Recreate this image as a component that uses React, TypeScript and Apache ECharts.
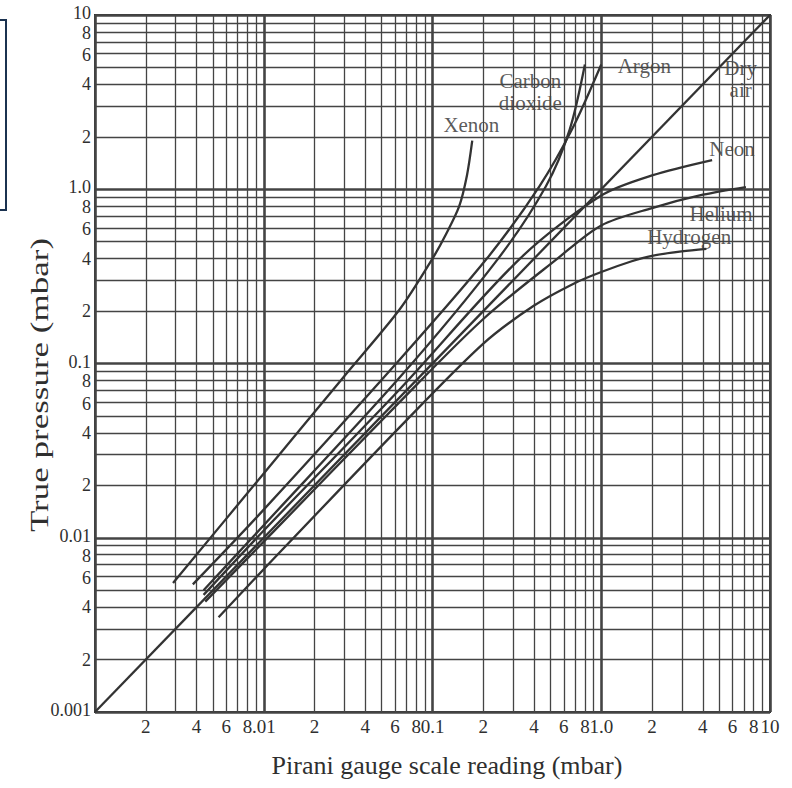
import React, { useEffect, useRef } from "react";
import * as echarts from "echarts";

// ---- axis grid & tick labels ----
const decades = [0.001, 0.01, 0.1, 1];
const multipliers = [1, 2, 3, 4, 5, 6, 7, 8, 9];
const axisMax = 10;
const xTickValues = [0.002, 0.004, 0.006, 0.008, 0.01, 0.02, 0.04, 0.06, 0.08, 0.1, 0.2, 0.4, 0.6, 0.8, 1, 2, 4, 6, 8, 10];
const xTickLabels = ["2", "4", "6", "8", ".01", "2", "4", "6", "8", "0.1", "2", "4", "6", "8", "1.0", "2", "4", "6", "8", "10"];
const yTickValues = [0.001, 0.002, 0.004, 0.006, 0.008, 0.01, 0.02, 0.04, 0.06, 0.08, 0.1, 0.2, 0.4, 0.6, 0.8, 1, 2, 4, 6, 8, 10];
const yTickLabels = ["0.001", "2", "4", "6", "8", "0.01", "2", "4", "6", "8", "0.1", "2", "4", "6", "8", "1.0", "2", "4", "6", "8", "10"];

// ---- curves (Pirani gauge reading, true pressure), mbar ----
const dryAirX = [0.001, 10];
const dryAirY = [0.001, 10];
const xenonX = [0.0029, 0.01, 0.03, 0.0638, 0.1, 0.12, 0.144, 0.16, 0.172];
const xenonY = [0.0055, 0.0234, 0.0846, 0.204, 0.4, 0.55, 0.8, 1.2, 1.9];
const argonX = [0.0038, 0.01, 0.0638, 0.21, 0.43, 0.67, 1.0];
const argonY = [0.0054, 0.0145, 0.105, 0.4, 1.04, 2.2, 5.2];
const co2X = [0.0044, 0.01, 0.0638, 0.245, 0.47, 0.65, 0.8];
const co2Y = [0.005, 0.0118, 0.083, 0.4, 1.04, 2.2, 5.2];
const neonX = [0.0044, 0.01, 0.0638, 0.33, 1.0, 2.0, 4.54];
const neonY = [0.0047, 0.011, 0.071, 0.4, 0.92, 1.2, 1.47];
const heliumX = [0.0045, 0.01, 0.0638, 0.2, 0.55, 1.0, 2.0, 4.0, 7.2];
const heliumY = [0.0043, 0.0095, 0.06, 0.18, 0.4, 0.62, 0.78, 0.93, 1.03];
const hydrogenX = [0.0054, 0.01, 0.0638, 0.2, 0.4, 0.7, 1.0, 1.5, 2.0, 3.0, 4.2];
const hydrogenY = [0.0035, 0.0066, 0.043, 0.13, 0.215, 0.29, 0.335, 0.385, 0.415, 0.44, 0.455];

// ---- gas labels ----
const gasNames = ["Xenon", "Carbon\ndioxide", "Argon", "Dry\nair", "Neon", "Helium", "Hydrogen"];
const gasLabelX = [0.17, 0.38, 1.8, 6.7, 5.96, 5.13, 3.32];
const gasLabelY = [2.33, 3.61, 5.09, 4.29, 1.7, 0.718, 0.53];

const FONT = '"Liberation Serif", "DejaVu Serif", serif';
const INK = "#2f2f2f";

function zip(xs: number[], ys: number[]) {
  return xs.map((x, i) => [x, ys[i]]);
}

function gridValues(): number[] {
  const out: number[] = [];
  decades.forEach((d) => multipliers.forEach((m) => out.push(parseFloat((d * m).toPrecision(3)))));
  out.push(axisMax);
  return out;
}

function labelFor(v: number, values: number[], labels: string[]) {
  const i = values.findIndex((t) => Math.abs(t - v) / v < 1e-6);
  return i >= 0 ? labels[i] : null;
}

function isDecade(v: number) {
  const l = Math.log10(v);
  return Math.abs(l - Math.round(l)) < 1e-6;
}

export default function App() {
  const ref = useRef<HTMLDivElement>(null);
  useEffect(() => {
    if (!ref.current) return;
    const chart = echarts.init(ref.current, null, { renderer: "svg" });
    const gv = gridValues();
    const vLines = gv.map((v) => {
      const txt = labelFor(v, xTickValues, xTickLabels);
      return {
        xAxis: v,
        lineStyle: { width: isDecade(v) ? 2.6 : 1.3, color: "#444", type: "solid" },
        label: txt
          ? {
              show: true,
              formatter: txt,
              position: "start",
              distance: 6,
              fontFamily: FONT,
              fontSize: 19,
              lineHeight: 16,
              color: INK,
            }
          : { show: false },
      };
    });
    const hLines = gv.map((v) => {
      const txt = labelFor(v, yTickValues, yTickLabels);
      // tightly packed labels below each decade are nudged apart slightly
      const dy = isDecade(v) ? -2 : txt === "8" ? 1 : txt === "6" ? 1.5 : 0;
      return {
        yAxis: v,
        lineStyle: { width: isDecade(v) ? 2.6 : 1.3, color: "#444", type: "solid" },
        label: txt
          ? {
              show: true,
              formatter: txt,
              position: "start",
              distance: 4,
              offset: [0, dy],
              fontFamily: FONT,
              fontSize: 18,
              lineHeight: 14,
              color: INK,
            }
          : { show: false },
      };
    });
    const curve = (name: string, xs: number[], ys: number[]) => ({
      name,
      type: "line",
      data: zip(xs, ys),
      showSymbol: false,
      symbol: "none",
      smooth: 0.3,
      z: 5,
      lineStyle: { color: "#333", width: 2.3 },
    });
    const option: any = {
      animation: false,
      backgroundColor: "#fff",
      grid: { left: 95, right: 22, top: 15, bottom: 76, show: true, borderColor: "#333", borderWidth: 2 },
      xAxis: {
        type: "log",
        logBase: 10,
        min: 0.001,
        max: 10,
        axisLine: { show: false },
        axisTick: { show: false },
        axisLabel: { show: false },
        splitLine: { show: false },
      },
      yAxis: {
        type: "log",
        logBase: 10,
        min: 0.001,
        max: 10,
        axisLine: { show: false },
        axisTick: { show: false },
        axisLabel: { show: false },
        splitLine: { show: false },
      },
      graphic: [
        {
          type: "rect",
          shape: { x: -20, y: 20, width: 26, height: 190 },
          style: { fill: "#fff", stroke: "#1b3250", lineWidth: 2 },
        },
        {
          type: "text",
          x: 40,
          y: 385,
          rotation: Math.PI / 2,
          scaleX: 1.4,
          style: {
            text: "True pressure (mbar)",
            font: `25px ${FONT}`,
            fill: INK,
            textAlign: "center",
            textVerticalAlign: "middle",
          },
        },
        {
          type: "text",
          x: 447,
          y: 765,
          style: {
            text: "Pirani gauge scale reading (mbar)",
            font: `26px ${FONT}`,
            fill: INK,
            textAlign: "center",
            textVerticalAlign: "middle",
          },
        },
      ],
      series: [
        {
          name: "grid",
          type: "line",
          data: [],
          z: 1,
          silent: true,
          markLine: {
            silent: true,
            precision: 8,
            symbol: ["none", "none"],
            animation: false,
            data: [...vLines, ...hLines],
          },
        },
        {
          name: "labels",
          type: "scatter",
          z: 3,
          symbolSize: 0,
          silent: true,
          data: gasNames.map((n, i) => ({ value: [gasLabelX[i], gasLabelY[i]], name: n })),
          label: {
            show: true,
            position: "inside",
            formatter: (p: any) => p.name,
            fontFamily: FONT,
            fontSize: 21,
            lineHeight: 22,
            color: INK,
            backgroundColor: "#fff",
            padding: [1, 3],
          },
        },
        curve("Dry air", dryAirX, dryAirY),
        curve("Xenon", xenonX, xenonY),
        curve("Argon", argonX, argonY),
        curve("Carbon dioxide", co2X, co2Y),
        curve("Neon", neonX, neonY),
        curve("Helium", heliumX, heliumY),
        curve("Hydrogen", hydrogenX, hydrogenY),
      ],
    };
    chart.setOption(option);
    return () => chart.dispose();
  }, []);
  return <div ref={ref} style={{ position: "absolute", left: 0, top: 0, width: 792, height: 788 }} />;
}
